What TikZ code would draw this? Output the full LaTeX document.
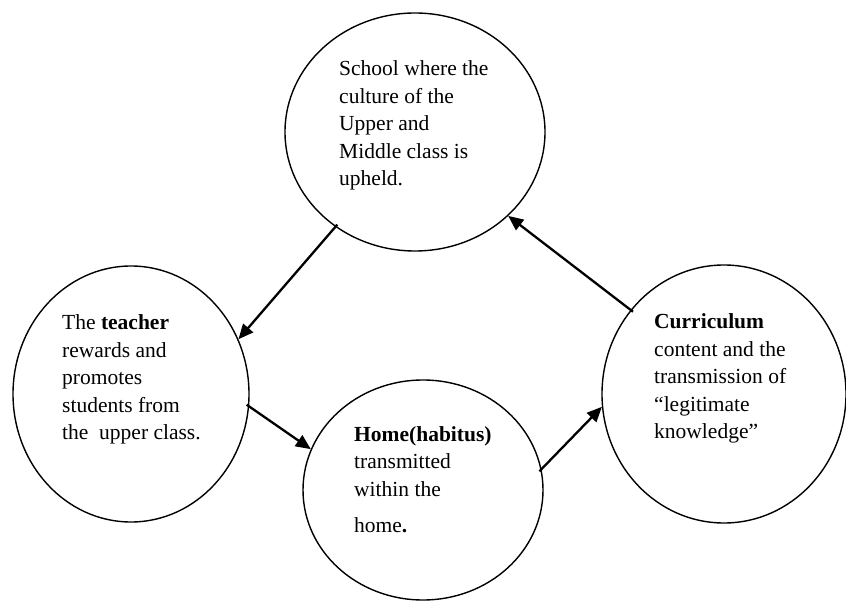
\documentclass[tikz,border=0pt]{standalone}
\usepackage{fontspec}
\setmainfont{Liberation Serif}
\usetikzlibrary{arrows.meta,shapes.geometric}
\tikzset{
  bubble/.style={draw, line width=1.4pt, ellipse, inner sep=0pt},
  label/.style={anchor=base west, inner sep=0pt, font=\fontsize{21.5}{27.5}\selectfont},
  link/.style={line width=2.3pt, -{Triangle[length=15pt,width=13pt]}, shorten <=-3pt}
}
\begin{document}
\begin{tikzpicture}[x=1pt,y=-1pt]
\useasboundingbox (0,0) rectangle (846,601);
\fill[white] (0,0) rectangle (846,601);
\node[bubble, minimum width=260pt, minimum height=238pt] (school) at (415,132) {};
\node[bubble, minimum width=236pt, minimum height=256pt] (teacher) at (131,394) {};
\node[bubble, minimum width=240pt, minimum height=220pt] (home) at (423,490) {};
\node[bubble, minimum width=244pt, minimum height=258pt] (curr) at (724,394) {};

\node[label] (tschool) at (339,76) {\parbox[t]{200pt}{School where the\\culture of the\\Upper and\\Middle class is\\upheld.}};
\node[label] (tteacher) at (62,330) {\parbox[t]{200pt}{The \textbf{teacher}\\rewards and\\promotes\\students from\\the\ \ upper class.}};
\node[label] (thome) at (354,441) {\parbox[t]{200pt}{\textbf{Home(habitus)}\\transmitted\\within the\\[9pt]home\textbf{.}}};
\node[label] (tcurr) at (654,329) {\parbox[t]{200pt}{\textbf{Curriculum}\\content and the\\transmission of\\“legitimate\\knowledge”}};

\draw[link] (school.230.6) -- (teacher.27.8);
\draw[link] (teacher.-6.7) -- (home.160.8);
\draw[link] (home.10.8) -- (curr.186.5);
\draw[link] (curr.138.6) -- (school.318.9);
\end{tikzpicture}
\end{document}
